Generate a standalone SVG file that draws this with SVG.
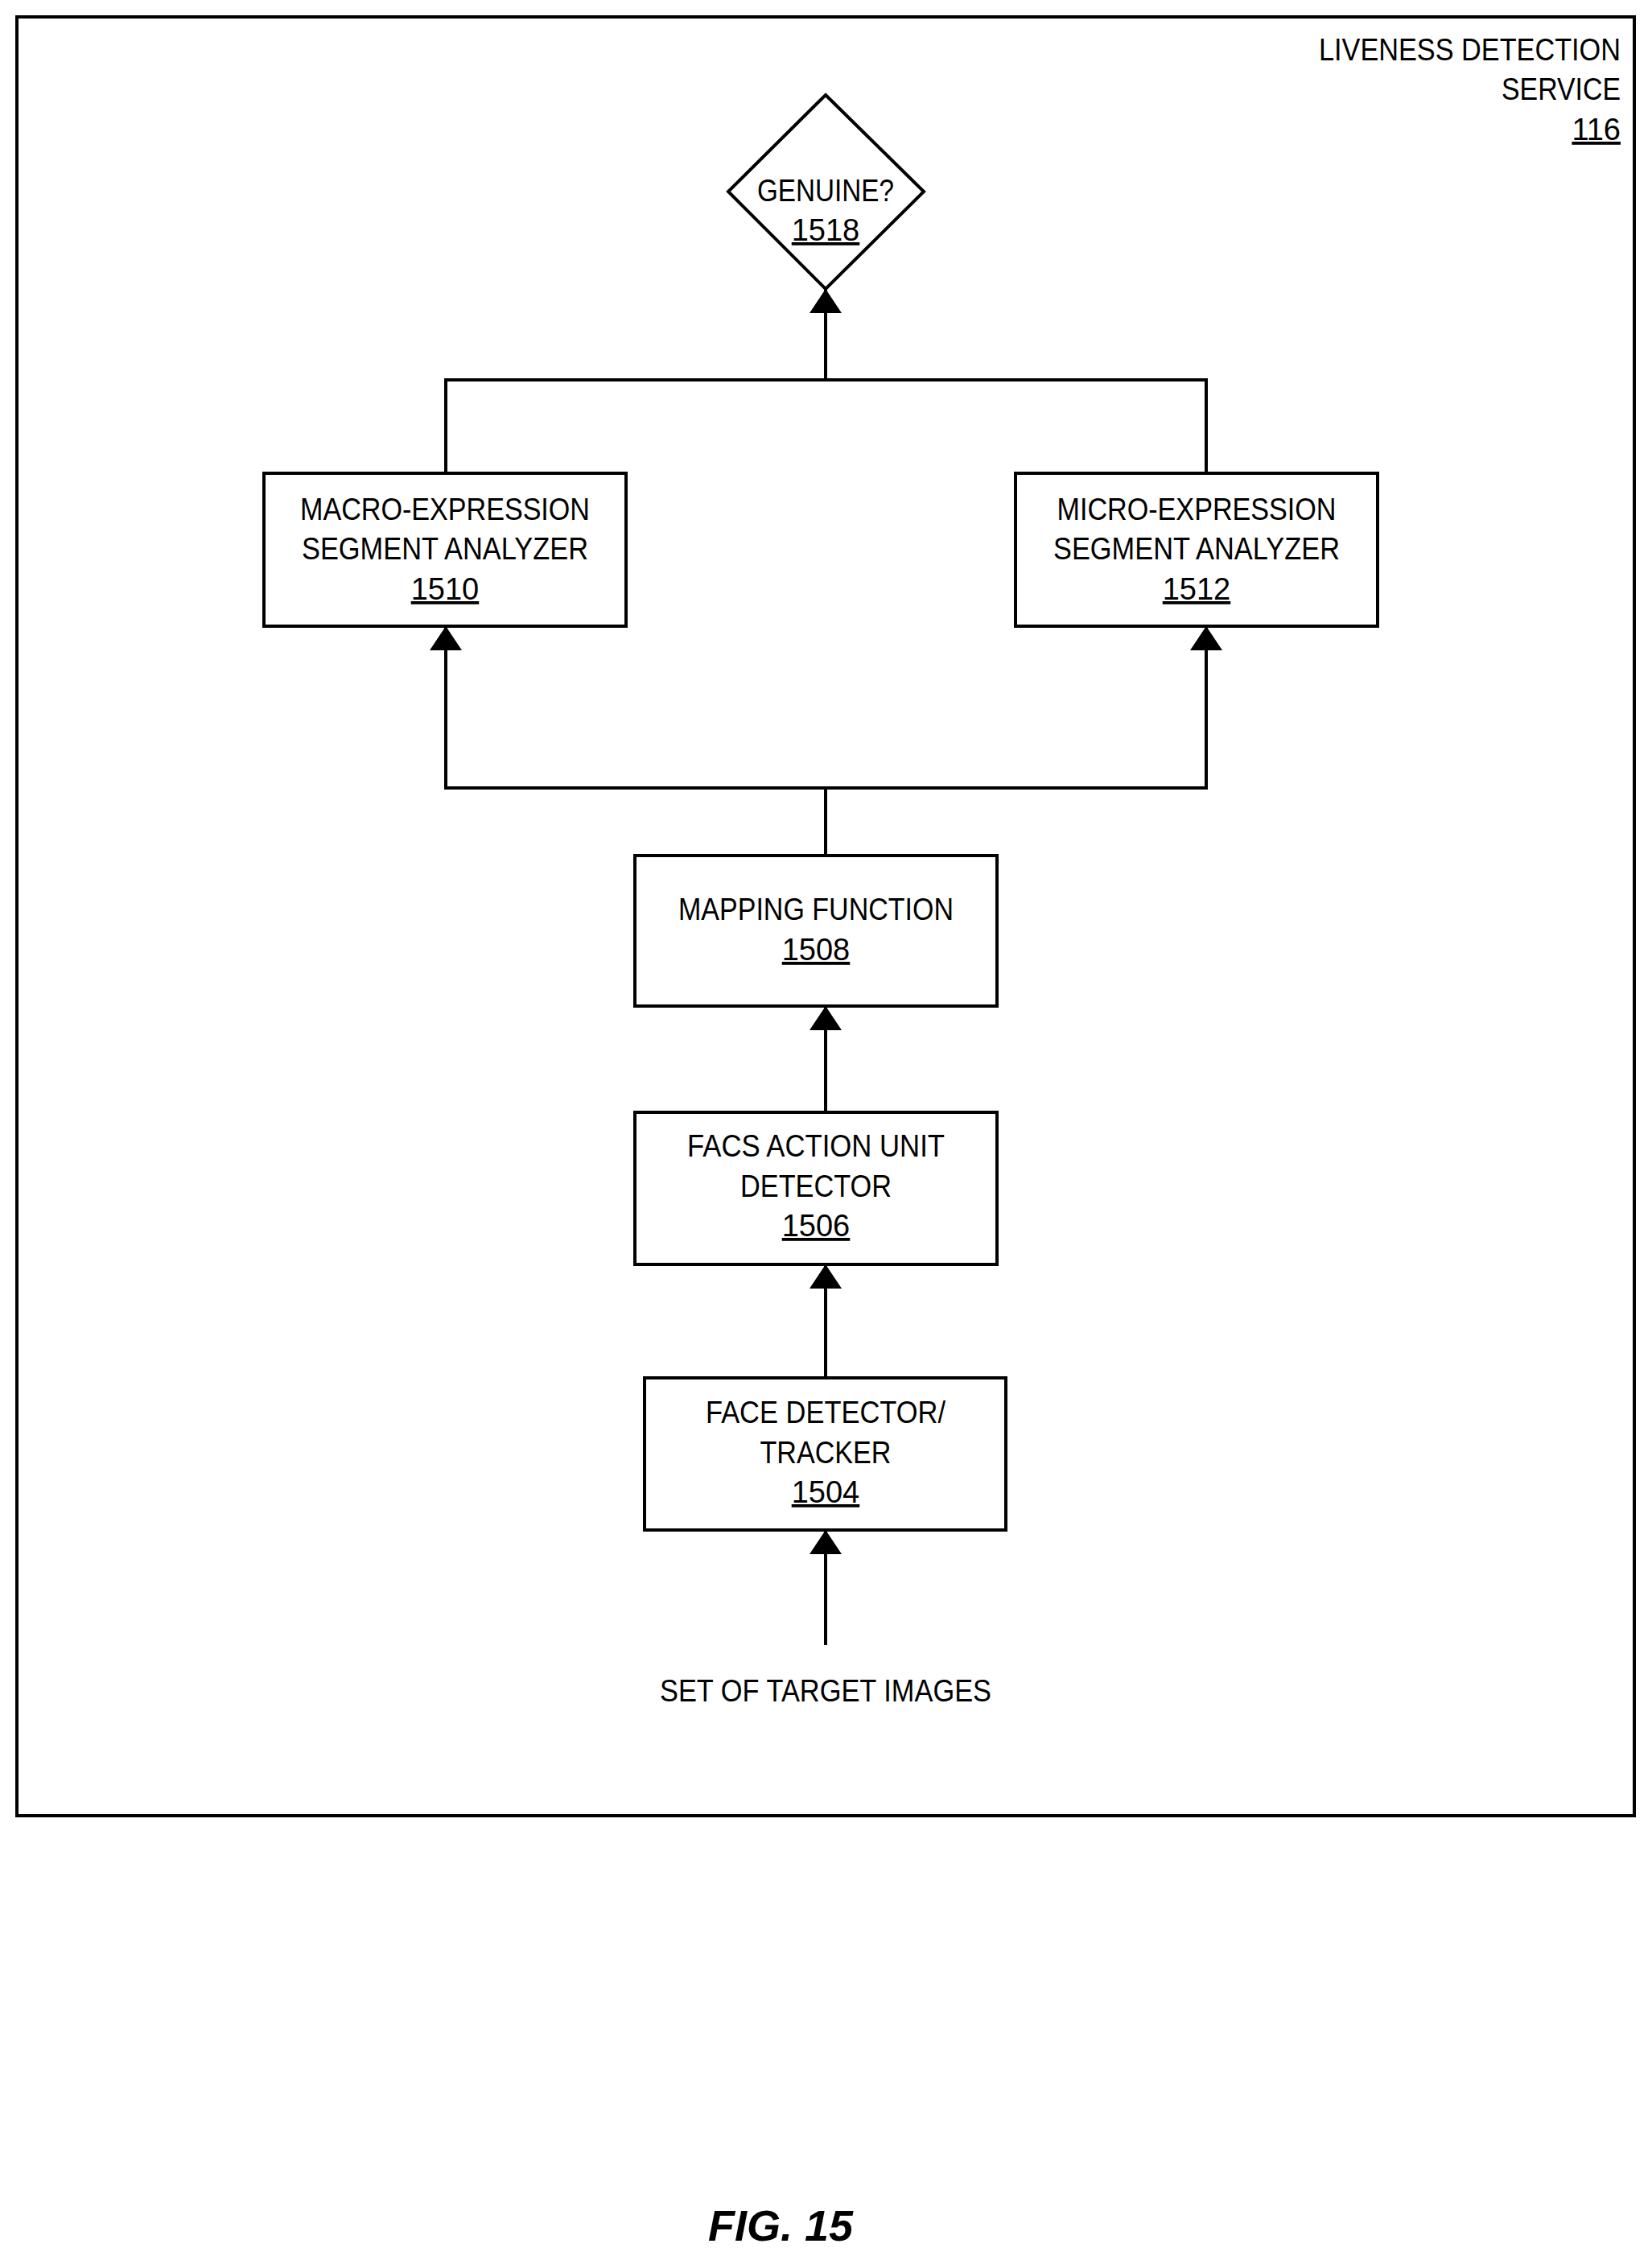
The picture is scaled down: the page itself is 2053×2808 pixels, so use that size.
<svg xmlns="http://www.w3.org/2000/svg" width="2053" height="2808" viewBox="0 0 2053 2808">
<style>
.b{fill:#fff;stroke:#000;stroke-width:4}
text{font-family:"Liberation Sans Narrow","Liberation Sans",Arial,sans-serif;font-size:38px;text-anchor:middle;fill:#000;transform-box:fill-box}
.n{font-size:38px}
.c{fill:none;stroke:#000;stroke-width:4}
</style>
<defs>
<marker id="ah" viewBox="0 0 10 10" refX="10" refY="5" markerWidth="30" markerHeight="40" markerUnits="userSpaceOnUse" orient="auto" preserveAspectRatio="none"><path d="M0,0 L10,5 L0,10 z"/></marker></defs>
<rect x="21" y="21" width="2010" height="2235" fill="none" stroke="#000" stroke-width="4"/>
<g id="service"><text x="2014" y="75" style="text-anchor:end" textLength="375" lengthAdjust="spacingAndGlyphs">LIVENESS DETECTION</text><text x="2014" y="124" style="text-anchor:end" textLength="148" lengthAdjust="spacingAndGlyphs">SERVICE</text><text x="2014" y="174" style="text-anchor:end" text-decoration="underline">116</text></g>
<g id="n1518"><polygon class="b" points="1026,118 1148,238 1026,359 905,238"/><text x="1026" y="250" textLength="170" lengthAdjust="spacingAndGlyphs">GENUINE?</text><text x="1026" y="299" text-decoration="underline">1518</text></g>
<g id="n1510"><rect class="b" x="328" y="588" width="450" height="190"/><text x="553" y="646" textLength="360" lengthAdjust="spacingAndGlyphs">MACRO-EXPRESSION</text><text x="553" y="695" textLength="356" lengthAdjust="spacingAndGlyphs">SEGMENT ANALYZER</text><text x="553" y="745" text-decoration="underline">1510</text></g>
<g id="n1512"><rect class="b" x="1262" y="588" width="450" height="190"/><text x="1487" y="646" textLength="347" lengthAdjust="spacingAndGlyphs">MICRO-EXPRESSION</text><text x="1487" y="695" textLength="356" lengthAdjust="spacingAndGlyphs">SEGMENT ANALYZER</text><text x="1487" y="745" text-decoration="underline">1512</text></g>
<g id="n1508"><rect class="b" x="789" y="1063" width="450" height="187"/><text x="1014" y="1143" textLength="342" lengthAdjust="spacingAndGlyphs">MAPPING FUNCTION</text><text x="1014" y="1193" text-decoration="underline">1508</text></g>
<g id="n1506"><rect class="b" x="789" y="1382" width="450" height="189"/><text x="1014" y="1437" textLength="320" lengthAdjust="spacingAndGlyphs">FACS ACTION UNIT</text><text x="1014" y="1487" textLength="188" lengthAdjust="spacingAndGlyphs">DETECTOR</text><text x="1014" y="1536" text-decoration="underline">1506</text></g>
<g id="n1504"><rect class="b" x="801" y="1712" width="449" height="189"/><text x="1026" y="1768" textLength="298" lengthAdjust="spacingAndGlyphs">FACE DETECTOR/</text><text x="1026" y="1818" textLength="163" lengthAdjust="spacingAndGlyphs">TRACKER</text><text x="1026" y="1867" text-decoration="underline">1504</text></g>
<g id="input"><text x="1026" y="2114" textLength="412" lengthAdjust="spacingAndGlyphs">SET OF TARGET IMAGES</text></g>
<g id="connectors">
<path class="c" d="M554,588 V472 H1499 V588"/>
<path class="c" d="M1026,472 V359" marker-end="url(#ah)"/>
<path class="c" d="M1026,1063 V979 H554 V778" marker-end="url(#ah)"/>
<path class="c" d="M1026,979 H1499 V778" marker-end="url(#ah)"/>
<path class="c" d="M1026,1382 V1250" marker-end="url(#ah)"/>
<path class="c" d="M1026,1712 V1571" marker-end="url(#ah)"/>
<path class="c" d="M1026,2044 V1901" marker-end="url(#ah)"/>
</g>
<text x="970" y="2784" style="font-family:'Liberation Sans',Arial,sans-serif;font-size:54px;font-weight:bold;font-style:italic">FIG. 15</text>
</svg>
